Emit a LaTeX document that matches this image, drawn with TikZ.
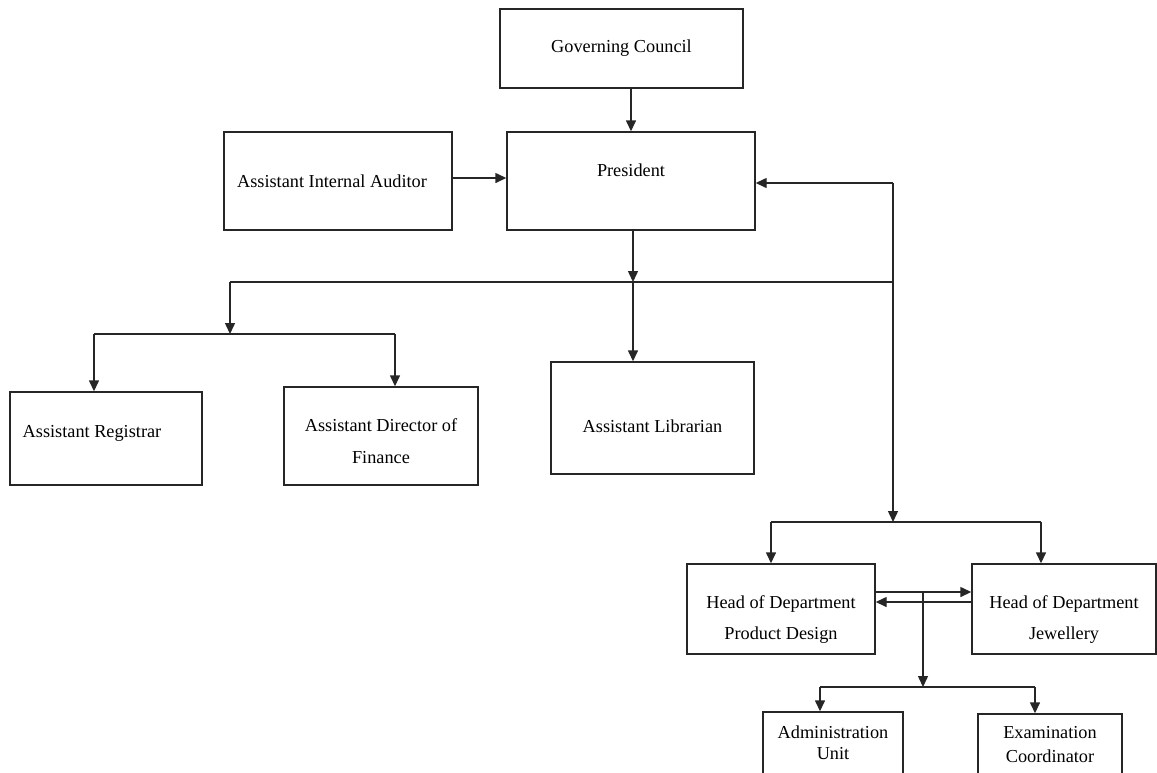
\documentclass[tikz,border=0pt]{standalone}
\usepackage{fontspec}
\setmainfont{Liberation Serif}
\usetikzlibrary{arrows.meta}
\newcommand{\orgBox}[5]{\node[orgbox, minimum width=#3*0.02cm, minimum height=#4*0.02cm] (#1) at (#2) {#5};}
\tikzset{
  orgbox/.style={
    draw=black!85,
    fill=white,
    align=center,
    inner sep=2pt,
    font=\fontsize{10.4}{12.5}\selectfont
  }
}

\begin{document}
\begin{tikzpicture}[
    >={Triangle[length=0.22cm,width=0.2cm]},
    x=0.02cm, y=-0.02cm,
    line width=0.8pt,
    draw=black!85
  ]
  \clip (0,0) rectangle (1157,772);
  \orgBox{council}{621.5,48.5}{243}{79}{Governing Council}
  \orgBox{auditor}{338,181}{228}{98}{Assistant Internal Auditor\hspace*{0.24cm}}
  \orgBox{president}{631,181}{248}{98}{President\\[0pt]\mbox{}}
  \orgBox{registrar}{106,438.5}{192}{93}{Assistant Registrar\hspace*{0.56cm}\rule[-8pt]{0pt}{0pt}}
  \orgBox{finance}{381,436}{194}{98}{\rule{0pt}{13pt}Assistant Director of\\[5.5pt]Finance}
  \orgBox{librarian}{652.5,418}{203}{112}{\rule{0pt}{16.5pt}Assistant Librarian}
  \orgBox{hodpd}{781,609}{188}{90}{\rule{0pt}{19pt}Head of Department\\[5pt]Product Design}
  \orgBox{hodj}{1064,609}{184}{90}{\rule{0pt}{19pt}Head of Department\\[5pt]Jewellery}
  \orgBox{admin}{833,743}{140}{62}{Administration\\[-0.5pt]Unit}
  \orgBox{exam}{1050,744.5}{144}{61}{Examination\\[1.5pt]Coordinator}

  % junctions
  \coordinate (busM) at (633,282);
  \coordinate (busL) at (230,282);
  \coordinate (busR) at (893,282);
  \coordinate (leftM) at (230,334);
  \coordinate (leftL) at (94,334);
  \coordinate (leftR) at (395,334);
  \coordinate (presIn) at (893,183);
  \coordinate (deptM) at (893,522);
  \coordinate (deptL) at (771,522);
  \coordinate (deptR) at (1041,522);
  \coordinate (hodTo) at (923,592);
  \coordinate (hodFrom) at (923,602);
  \coordinate (unitM) at (923,687);
  \coordinate (unitL) at (820,687);
  \coordinate (unitR) at (1035,687);

  \draw[->] (council.south -| president) -- (president.north);
  \draw[->] (auditor.east |- 0,178) -- (president.west |- 0,178);
  \draw[->] (president.south -| busM) -- (busM);
  \draw (busL) -- (busR);
  \draw[->] (busM) -- (busM |- librarian.north);
  \draw[->] (busL) -- (leftM);
  \draw (leftL) -- (leftR);
  \draw[->] (leftL) -- (leftL |- registrar.north);
  \draw[->] (leftR) -- (leftR |- finance.north);
  \draw[->] (presIn) -- (presIn -| president.east);
  \draw[->] (presIn) -- (deptM);
  \draw (deptL) -- (deptR);
  \draw[->] (deptL) -- (deptL |- hodpd.north);
  \draw[->] (deptR) -- (deptR |- hodj.north);
  \draw[->] (hodTo -| hodpd.east) -- (hodTo -| hodj.west);
  \draw[->] (hodFrom -| hodj.west) -- (hodFrom -| hodpd.east);
  \draw[->] (hodTo) -- (unitM);
  \draw (unitL) -- (unitR);
  \draw[->] (unitL) -- (unitL |- admin.north);
  \draw[->] (unitR) -- (unitR |- exam.north);
\end{tikzpicture}
\end{document}
